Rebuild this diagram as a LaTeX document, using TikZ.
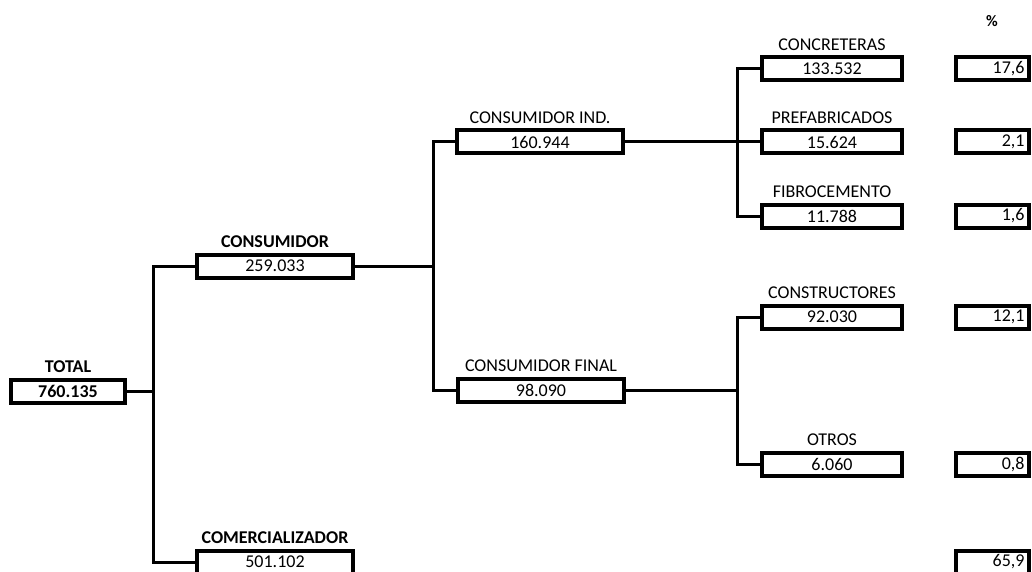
\documentclass[tikz,border=0pt]{standalone}
\usepackage{fontspec}
\setmainfont{Carlito}
\usetikzlibrary{calc}
\tikzset{box/.style={draw,line width=4pt,minimum height=23pt,inner sep=0pt,font=\fontsize{18}{20}\selectfont},
valbox/.style={box,minimum width=140pt},
pct/.style={box,text width=65pt,align=right,inner xsep=4pt},
lab/.style={above=5pt,inner sep=0pt,font=\fontsize{18}{20}\selectfont},
blab/.style={lab,font=\fontsize{18}{20}\selectfont\bfseries},
link/.style={line width=3pt}}

\begin{document}
\begin{tikzpicture}[x=1pt,y=-1pt]
\useasboundingbox (0,0) rectangle (1032,572);
\clip (0,0) rectangle (1032,572);
\coordinate (j1) at (153,0);
\coordinate (j2) at (433,0);
\coordinate (j3) at (737,0);
% first levels
\node[box,minimum width=114pt,font=\fontsize{18}{20}\selectfont\bfseries] (total) at (68,391) {760.135};
\node[blab] (totalLab) at (total.north) {TOTAL};
\node[box,minimum width=156pt] (cons) at (275,266) {259.033};
\node[blab] (consLab) at (cons.north) {CONSUMIDOR};
\node[box,minimum width=156pt] (comer) at (275,562) {501.102};
\node[blab] (comerLab) at (comer.north) {COMERCIALIZADOR};
\node[box,minimum width=166pt] (ind) at (540,142) {160.944};
\node[lab] (indLab) at (ind.north) {CONSUMIDOR IND.};
\node[box,minimum width=166pt] (fin) at (541,390) {98.090};
\node[lab] (finLab) at (fin.north) {CONSUMIDOR FINAL};
% last level and percentages
\node[valbox] (conc) at (832,69) {133.532};
\node[lab] (concLab) at (conc.north) {CONCRETERAS};
\node[valbox] (pref) at (832,142) {15.624};
\node[lab] (prefLab) at (pref.north) {PREFABRICADOS};
\node[valbox] (fib) at (832,216) {11.788};
\node[lab] (fibLab) at (fib.north) {FIBROCEMENTO};
\node[valbox] (constr) at (832,317) {92.030};
\node[lab] (constrLab) at (constr.north) {CONSTRUCTORES};
\node[valbox] (otros) at (832,464) {6.060};
\node[lab] (otrosLab) at (otros.north) {OTROS};
\node[pct] (pConc) at (992,69) {17,6};
\node[pct] (pPref) at (992,142) {2,1};
\node[pct] (pFib) at (992,216) {1,6};
\node[pct] (pConstr) at (992,317) {12,1};
\node[pct] (pOtros) at (992,464) {0,8};
\node[pct] (pComer) at (992,562) {65,9};
\node[font=\fontsize{16}{18}\selectfont\bfseries] (pctHead) at (992,21) {\%};
% connectors
\draw[link] (total.east) -- (total.east -| j1);
\draw[link] (cons.west) -| (j1 |- comer.west) -- (comer.west);
\draw[link] (cons.east) -- (cons.east -| j2);
\draw[link] (ind.west) -| (j2 |- fin.west) -- (fin.west);
\draw[link] (ind.east) -- (pref.west);
\draw[link] (conc.west) -| (j3 |- fib.west) -- (fib.west);
\draw[link] (fin.east) -- (fin.east -| j3);
\draw[link] (constr.west) -| (j3 |- otros.west) -- (otros.west);
\end{tikzpicture}
\end{document}
